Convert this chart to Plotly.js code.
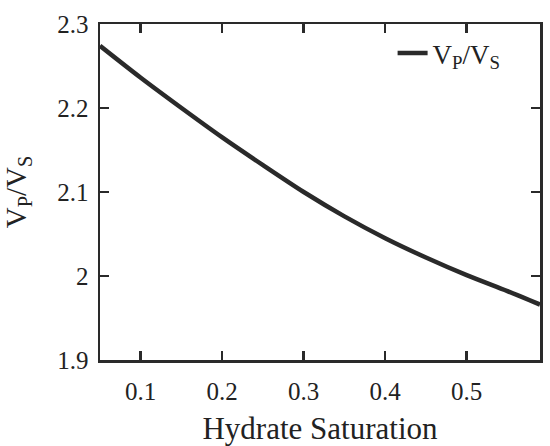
<!DOCTYPE html>
<html>
<head>
<meta charset="utf-8">
<script src="https://cdn.plot.ly/plotly-3.0.1.min.js"></script>
<style>html,body{margin:0;padding:0;background:#fff;}#chart{width:550px;height:446px;}</style>
</head>
<body>
<div id="chart"></div>
<script>
const saturation = [0.05, 0.1, 0.15, 0.2, 0.25, 0.3, 0.35, 0.4, 0.45, 0.5, 0.55, 0.59];
const vpvs = [2.274, 2.236, 2.200, 2.165, 2.132, 2.100, 2.071, 2.045, 2.022, 2.001, 1.982, 1.966];
const seriesName = 'V<sub>P</sub>/V<sub>S</sub>';
const xTicks = [0.1, 0.2, 0.3, 0.4, 0.5];
const yTicks = [1.9, 2, 2.1, 2.2, 2.3];
const yTickText = ['1.9', '2', '2.1', '2.2', '2.3'];

const font = 'Liberation Serif, Times New Roman, serif';
const ink = '#2a2a2a';

const trace = {
  x: saturation, y: vpvs, type: 'scatter', mode: 'lines', name: seriesName,
  line: {color: ink, width: 4.5, shape: 'spline', smoothing: 0.8}
};

const axisCommon = {
  showline: true, linecolor: ink, linewidth: 2.5, mirror: 'ticks',
  ticks: 'inside', ticklen: 9, tickwidth: 2.5, tickcolor: ink,
  showgrid: false, zeroline: false,
  tickfont: {family: font, size: 25, color: '#222'}
};

const layout = {
  width: 550, height: 446,
  margin: {l: 100, r: 10, t: 24, b: 86},
  paper_bgcolor: '#fff', plot_bgcolor: '#fff',
  font: {family: font, color: '#222'},
  showlegend: true,
  legend: {x: 0.665, y: 0.985, xanchor: 'left', yanchor: 'top', bgcolor: 'rgba(0,0,0,0)',
           font: {family: font, size: 27, color: '#222'}},
  xaxis: Object.assign({}, axisCommon, {
    range: [0.05, 0.59], tickvals: xTicks, ticktext: xTicks.map(String), ticklabelstandoff: 7,
    title: {text: 'Hydrate Saturation', font: {family: font, size: 31, color: '#222'}, standoff: 16}
  }),
  yaxis: Object.assign({}, axisCommon, {
    range: [1.9, 2.3], tickvals: yTicks, ticktext: yTickText, ticklabelstandoff: 4,
    title: {text: seriesName, font: {family: font, size: 29, color: '#222'}, standoff: 22}
  })
};

Plotly.newPlot('chart', [trace], layout, {displayModeBar: false, staticPlot: true});
</script>
</body>
</html>
